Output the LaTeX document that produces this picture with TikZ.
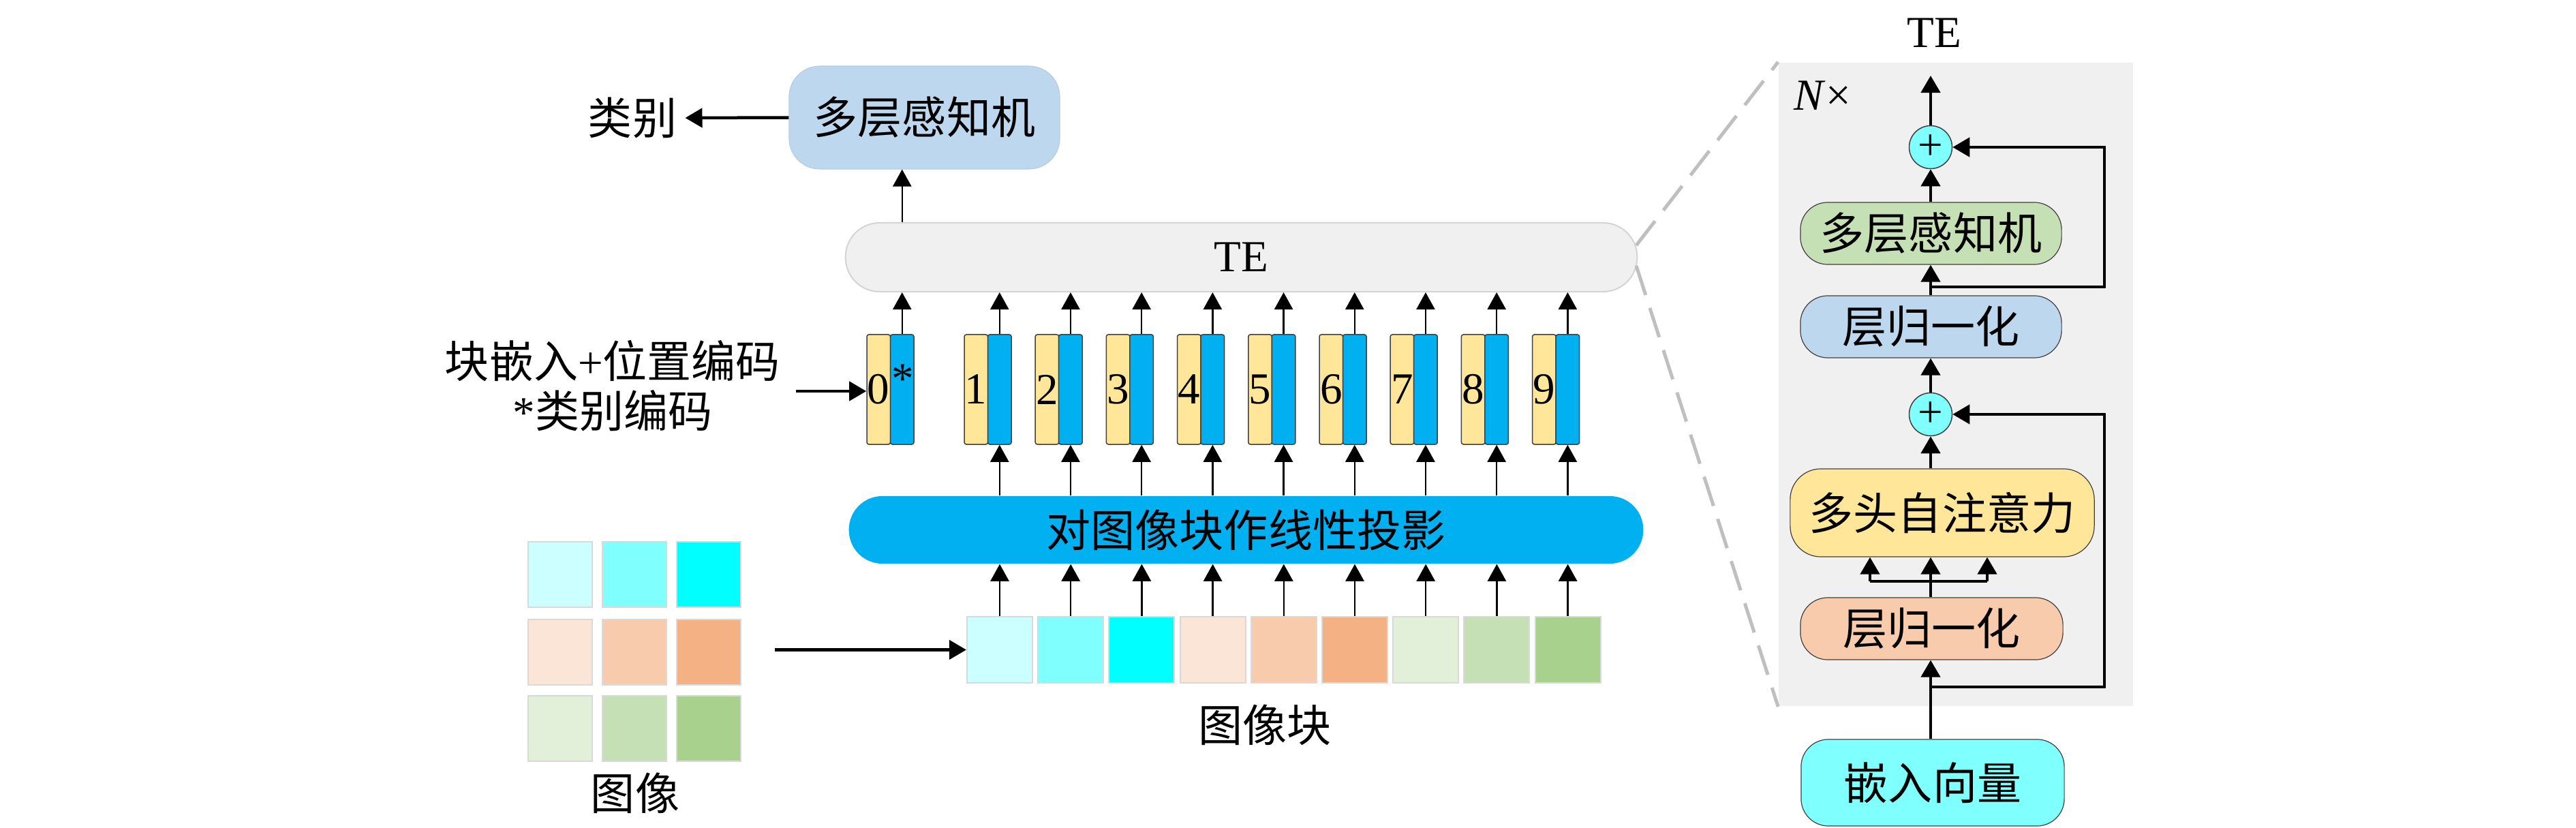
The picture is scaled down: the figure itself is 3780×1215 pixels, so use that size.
\documentclass[tikz,border=0pt]{standalone}
\usepackage{fontspec}
\setmainfont{Liberation Serif}
\newfontfamily\cjk{Noto Sans CJK SC}
\usetikzlibrary{arrows.meta,calc}
\definecolor{mlpblue}{HTML}{BDD7EE}
\definecolor{tegray}{HTML}{F0F0F0}
\definecolor{teborder}{HTML}{D4D4D4}
\definecolor{projblue}{HTML}{00B0F0}
\definecolor{tokyel}{HTML}{FFE699}
\definecolor{cA}{HTML}{CCFFFF}
\definecolor{cB}{HTML}{80FFFF}
\definecolor{cC}{HTML}{00FFFF}
\definecolor{cD}{HTML}{FBE5D6}
\definecolor{cE}{HTML}{F8CBAD}
\definecolor{cF}{HTML}{F4B183}
\definecolor{cG}{HTML}{E2F0D9}
\definecolor{cH}{HTML}{C5E0B4}
\definecolor{cI}{HTML}{A9D18E}
\definecolor{dashgray}{HTML}{BFBFBF}
\definecolor{edge}{HTML}{404040}
\begin{document}
\begin{tikzpicture}[x=0.01cm,y=-0.01cm,
  font=\fontsize{18.5}{21}\selectfont,
  arr/.style={-{Triangle[length=0.25cm,width=0.27cm]}, line width=0.025cm},
  arrb/.style={-{Triangle[length=0.25cm,width=0.28cm]}, line width=0.045cm},
  rbox/.style={draw=edge, line width=0.012cm, rounded corners=0.4cm, inner sep=0, minimum width=3.83cm, minimum height=0.91cm},
  yelbar/.style={draw=edge, fill=tokyel, line width=0.015cm, rounded corners=0.03cm, inner sep=0, minimum width=0.345cm, minimum height=1.61cm},
  bluebar/.style={draw=edge, fill=projblue, line width=0.015cm, rounded corners=0.03cm, inner sep=0, minimum width=0.345cm, minimum height=1.61cm},
  cell/.style={draw=black!15, line width=0.02cm, inner sep=0, minimum width=0.93cm, minimum height=0.96cm},
  plus/.style={circle, draw=edge, fill=cB, line width=0.015cm, inner sep=0, minimum size=0.63cm},
  dashline/.style={draw=dashgray, line width=0.05cm, dash pattern=on 0.45cm off 0.2cm}
]
\useasboundingbox (0,0) rectangle (3780,1215);

% ---------- left: image grid ----------
\foreach \r/\yy in {1/843,2/957,3/1069}{
  \foreach \c/\xx in {1/822,2/931,3/1040}{
    \pgfmathtruncatemacro{\idx}{(\r-1)*3+\c}
    \ifcase\idx\or\def\cc{cA}\or\def\cc{cB}\or\def\cc{cC}\or\def\cc{cD}\or\def\cc{cE}\or\def\cc{cF}\or\def\cc{cG}\or\def\cc{cH}\or\def\cc{cI}\fi
    \node[cell, fill=\cc] (g\r\c) at (\xx,\yy) {};
  }
}
\node (imglbl) at (932,1164) {\cjk 图像};

% ---------- patches ----------
\foreach \k/\cc in {1/cA,2/cB,3/cC,4/cD,5/cE,6/cF,7/cG,8/cH,9/cI}{
  \node[cell, fill=\cc, minimum width=0.96cm, minimum height=0.97cm] (p\k) at ({1467+(\k-1)*104.2},953.5) {};
}
\node (patchlbl) at (1856,1064) {\cjk 图像块};
\coordinate (gridout) at (1137,953.5);
\draw[arrb] (gridout) -- (p1.west);

% ---------- projection ----------
\node[fill=projblue, rounded corners=0.49cm, inner sep=0, minimum width=11.65cm, minimum height=0.99cm] (proj) at (1828.5,777.5) {\cjk 对图像块作线性投影};

% ---------- tokens ----------
\node[yelbar] (y0) at (1289.25,571.5) {0};
\node[bluebar] (b0) at (1323.75,571.5) {};
\node[inner sep=0] (star) at (1325,556) {*};
\foreach \k in {1,...,9}{
  \node[yelbar] (y\k) at ({1432.25+(\k-1)*104.2},571.5) {\k};
  \node[bluebar] (b\k) at ({1466.75+(\k-1)*104.2},571.5) {};
}

% ---------- TE ----------
\node[fill=tegray, draw=teborder, line width=0.02cm, rounded corners=0.5cm, inner sep=0, minimum width=11.61cm, minimum height=1.01cm] (te) at (1821.5,377.5) {TE};

% ---------- MLP head ----------
\node[fill=mlpblue, draw=mlpblue!85!gray, line width=0.01cm, rounded corners=0.45cm, inner sep=0, minimum width=3.97cm, minimum height=1.51cm] (mlp) at (1356.5,172.5) {\cjk 多层感知机};
\node (cls) at (928,173) {\cjk 类别};
\draw[arrb] (mlp.west) -- (cls.east);
\draw[arr] (b0 |- te.north) -- (b0 |- mlp.south);

% token arrows
\draw[arr] (b0.north) -- (b0.north |- te.south);
\foreach \k in {1,...,9}{
  \draw[arr] (b\k.north) -- (b\k.north |- te.south);
  \draw[arr] (proj.north -| b\k) -- (b\k.south);
  \draw[arr] (p\k.north) -- (p\k.north |- proj.south);
}

% left label
\node[align=center, font=\fontsize{18.5}{20.8}\selectfont] (lbl) at (899,566) {{\cjk 块嵌入}+{\cjk 位置编码}\\*{\cjk 类别编码}};
\coordinate (lblout) at (1168,574);
\draw[arrb] (lblout) -- (lblout -| y0.west);

% ---------- right panel ----------
\node[fill=tegray, inner sep=0, minimum width=5.2cm, minimum height=9.44cm] (panel) at (2870,564) {};
\node (tetitle) at (2838,48) {TE};
\node[anchor=west, inner sep=0] (ntimes) at (2632,140) {\textit{N}×};

\coordinate (cx) at (2833,0);
\node[plus] (plus1) at (2833,216) {+};
\node[rbox, fill=cH] (mlp2) at (2833.5,342.5) {\cjk 多层感知机};
\node[rbox, fill=mlpblue] (ln1) at (2833.5,479.5) {\cjk 层归一化};
\node[plus] (plus2) at (2833,608) {+};
\node[rbox, fill=tokyel, rounded corners=0.45cm, minimum width=4.46cm, minimum height=1.29cm] (mha) at (2850,752.5) {\cjk 多头自注意力};
\node[rbox, fill=cE, minimum width=3.85cm] (ln2) at (2834.5,922.5) {\cjk 层归一化};
\node[rbox, fill=cB, minimum width=3.86cm, minimum height=1.27cm] (emb) at (2836,1148.5) {\cjk 嵌入向量};

\coordinate (out) at (2833,111);
\coordinate (r1) at (2833,1008);
\coordinate (r1c) at (3088,1008);
\coordinate (r2) at (2833,421);
\coordinate (r2c) at (3088,421);
\coordinate (bl) at (2744,853);
\coordinate (bm) at (2833,853);
\coordinate (brr) at (2916,853);

\draw[arrb] (cx |- emb.north) -- (cx |- ln2.south);
\draw[arrb] (r1) -- (r1c) |- (plus2.east);
\draw[line width=0.045cm] (cx |- ln2.north) -- (bm);
\draw[line width=0.045cm] (bl) -- (brr);
\draw[arrb] (bl) -- (bl |- mha.south);
\draw[arrb] (bm) -- (bm |- mha.south);
\draw[arrb] (brr) -- (brr |- mha.south);
\draw[arrb] (cx |- mha.north) -- (plus2.south);
\draw[arrb] (plus2.north) -- (cx |- ln1.south);
\draw[arrb] (cx |- ln1.north) -- (cx |- mlp2.south);
\draw[arrb] (r2) -- (r2c) |- (plus1.east);
\draw[arrb] (cx |- mlp2.north) -- (plus1.south);
\draw[arrb] (plus1.north) -- (out);

% dashed zoom lines
\coordinate (d1) at (2401,360);
\coordinate (d2) at (2401,390);
\draw[dashline] (d1) -- (panel.north west);
\draw[dashline] (d2) -- (panel.south west);
\end{tikzpicture}
\end{document}
